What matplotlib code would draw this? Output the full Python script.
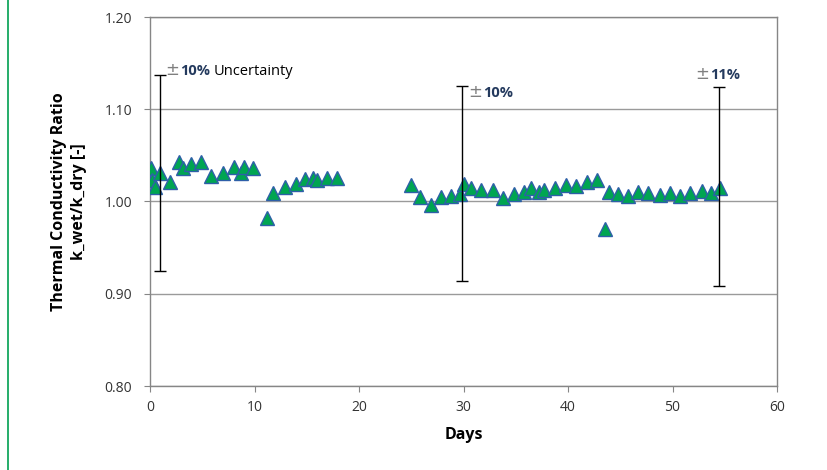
import numpy as np
import matplotlib.pyplot as plt
from matplotlib.lines import Line2D

plt.rcParams['font.family'] = ['Open Sans', 'DejaVu Sans']

# measured ratio k_wet/k_dry vs days
days = [0.1, 0.15, 0.45, 1.0, 1.9, 2.8, 3.2, 3.9, 4.9, 5.8, 7.0, 8.0, 8.7, 9.0, 9.9,
        11.2, 11.8, 12.9, 14.0, 14.8, 15.6, 16.0, 16.9, 17.9,
        25.0, 25.8, 26.9, 27.8, 28.8, 29.7, 30.0, 30.7, 31.7, 32.8, 33.75, 34.8,
        35.8, 36.5, 37.2, 37.7, 38.8, 39.8, 40.8, 41.8, 42.8, 43.5, 43.9, 44.75,
        45.7, 46.7, 47.7, 48.8, 49.8, 50.7, 51.7, 52.8, 53.7, 54.5]
ratio = [1.036, 1.023, 1.016, 1.031, 1.021, 1.043, 1.036, 1.041, 1.043, 1.028, 1.031, 1.037, 1.031, 1.037, 1.036,
         0.982, 1.009, 1.016, 1.019, 1.024, 1.026, 1.023, 1.025, 1.025,
         1.018, 1.005, 0.996, 1.005, 1.006, 1.008, 1.019, 1.015, 1.012, 1.012, 1.004, 1.008,
         1.010, 1.015, 1.010, 1.013, 1.015, 1.018, 1.017, 1.021, 1.023, 0.970, 1.010, 1.008,
         1.006, 1.010, 1.009, 1.007, 1.009, 1.006, 1.009, 1.011, 1.009, 1.015]

# uncertainty bars
err_days = [0.95, 29.9, 54.45]
err_center = [1.031, 1.0195, 1.016]
err_half = [0.106, 0.106, 0.108]
err_labels = ['10%', '10%', '11%']

fig = plt.figure(figsize=(8.27, 4.70), dpi=100)
ax = fig.add_axes([150/827, 1-386/470, 627/827, 369/470])

ax.plot(days, ratio, linestyle='none', marker='^', markersize=9.5,
        markerfacecolor='#00A551', markeredgecolor='#2E5FA8', markeredgewidth=1, zorder=3)
ax.errorbar(err_days, err_center, yerr=err_half, fmt='none', ecolor='black',
            elinewidth=1, capsize=4, capthick=1, zorder=4)

# uncertainty labels: gray plus-minus then bold percent
txt_pos = [(1.45, 1.137), (30.5, 1.113), (52.2, 1.133)]
for (x, y), lab in zip(txt_pos, err_labels):
    ax.text(x, y, '\u00b1', color='#7f7f7f', fontsize=12, family='DejaVu Sans',
            ha='left', va='baseline', zorder=5)
    ax.text(x + 1.4, y, lab, color='#243a5e', fontsize=10.5, fontweight='bold',
            ha='left', va='baseline', zorder=5)
ax.text(6.1, 1.137, 'Uncertainty', color='black', fontsize=10.5, ha='left', va='baseline')

ax.set_xlim(0, 60)
ax.set_ylim(0.80, 1.20)
ax.set_xticks(np.arange(0, 61, 10))
ax.set_yticks(np.arange(0.80, 1.201, 0.10))
ax.set_yticklabels(['0.80', '0.90', '1.00', '1.10', '1.20'])
ax.grid(axis='y', color='#9a9a9a', linewidth=1)
ax.set_axisbelow(True)
for s in ax.spines.values():
    s.set_color('#868686')
    s.set_linewidth(1)
ax.tick_params(axis='both', colors='#868686', labelcolor='#333333', labelsize=10, length=4)
ax.tick_params(axis='x', pad=6)
ax.tick_params(axis='y', pad=9)

ax.set_xlabel('Days', fontsize=11.5, fontweight='bold')
ax.set_ylabel('Thermal Conductivity Ratio\nk_wet/k_dry [-]', fontsize=11.5, fontweight='bold',
              linespacing=1.35)
ax.xaxis.set_label_coords(0.5, -0.112)
ax.yaxis.set_label_coords(-0.10, 0.5)

# green border line on the left edge
fig.add_artist(Line2D([8/827, 8/827], [0, 1], color='#00A050', linewidth=1.2,
                      transform=fig.transFigure))

fig.savefig('out.png', dpi=100)
